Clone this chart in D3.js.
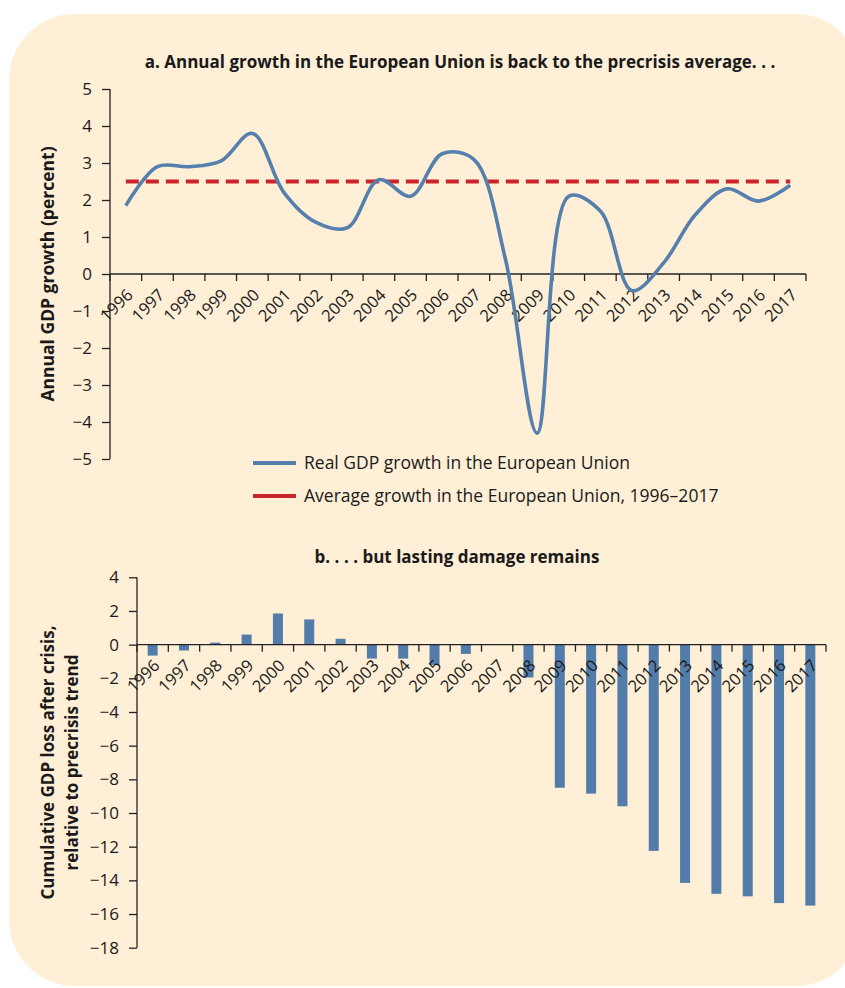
<!DOCTYPE html>
<html>
<head>
<meta charset="utf-8">
<script src="https://cdn.jsdelivr.net/npm/d3@7"></script>
<style>
  body { margin: 0; background: #fff; }
  svg text { font-family: "Open Sans", "Noto Sans", sans-serif; fill: #1a1a1a; }
</style>
</head>
<body>
<div id="chart"></div>
<script>
//chart values
var years = ["1996","1997","1998","1999","2000","2001","2002","2003","2004","2005","2006",
	"2007","2008","2009","2010","2011","2012","2013","2014","2015","2016","2017"];
var gdpGrowth = [1.85, 2.9, 2.9, 3.05, 3.8, 2.2, 1.4, 1.25, 2.55, 2.1, 3.25,
	3.1, 0.4, -4.3, 2.1, 1.7, -0.45, 0.3, 1.6, 2.3, 1.97, 2.4];
var avgGrowth = 2.5;
var gdpLoss = [-0.65, -0.35, 0.12, 0.6, 1.85, 1.5, 0.35, -0.83, -0.83, -1.2, -0.55,
	0, -1.95, -8.5, -8.85, -9.6, -12.25, -14.15, -14.8, -14.95, -15.35, -15.5];
var ticksA = [5, 4, 3, 2, 1, 0, -1, -2, -3, -4, -5];
var ticksB = [4, 2, 0, -2, -4, -6, -8, -10, -12, -14, -16, -18];
var legendItems = ["Real GDP growth in the European Union", "Average growth in the European Union, 1996\u20132017"];

var W = 845, H = 988;
var blue = "#5580ad", red = "#c9232b";

var svg = d3.select("#chart").append("svg")
	.attr("width", W)
	.attr("height", H);

//panel background
svg.append("rect")
	.attr("x", 9).attr("y", 14)
	.attr("width", 852).attr("height", 972)
	.attr("rx", 66).attr("ry", 66)
	.style("fill", "#feefd6");

//shared helper: category axis with ticks on band edges, rotated labels
function categoryAxis(g, x, y0) {
	var edges = years.map(function(d) { return x(d); }).concat([x.range()[1]]);
	g.append("line")
		.attr("x1", x.range()[0]).attr("x2", x.range()[1])
		.attr("y1", y0).attr("y2", y0)
		.style("stroke", "#222").style("stroke-width", 1.3);
	g.selectAll(".edge").data(edges).enter().append("line")
		.attr("x1", function(d) { return d; }).attr("x2", function(d) { return d; })
		.attr("y1", y0).attr("y2", y0 + 7)
		.style("stroke", "#222").style("stroke-width", 1.3);
	g.selectAll(".lab").data(years).enter().append("text")
		.attr("text-anchor", "end")
		.style("font-size", "16.5px")
		.attr("transform", function(d) {
			return "translate(" + (x(d) + x.bandwidth() / 2 + 8) + "," + (y0 + 22) + ") rotate(-45)";
		})
		.text(function(d) { return d; });
}

function valueAxis(g, y, ticks, x0) {
	var ax = g.append("g")
		.attr("transform", "translate(" + x0 + ",0)")
		.call(d3.axisLeft(y).tickValues(ticks).tickSize(8).tickPadding(10)
			.tickFormat(function(d) { return d < 0 ? "\u2212" + Math.abs(d) : d; }));
	ax.select(".domain").attr("d", "M0," + y.range()[0] + "V" + y.range()[1])
		.style("stroke", "#222").style("stroke-width", 1.3);
	ax.selectAll(".tick line").style("stroke", "#222").style("stroke-width", 1.3);
	ax.selectAll(".tick text").style("font-size", "17px").style("font-family", "'Open Sans', sans-serif")
		.style("fill", "#1a1a1a");
}

// ---------- panel a ----------
var xa = d3.scaleBand().domain(years).range([110, 806]);
var ya = d3.scaleLinear().domain([-5, 5]).range([459, 89]);
var ga = svg.append("g");

ga.append("text")
	.attr("x", 460).attr("y", 68)
	.attr("text-anchor", "middle")
	.style("font-size", "17px").style("font-weight", "bold")
	.text("a. Annual growth in the European Union is back to the precrisis average. . .");

valueAxis(ga, ya, ticksA, 110);
categoryAxis(ga, xa, ya(0));

ga.append("text")
	.attr("transform", "translate(54," + ya(0) + ") rotate(-90)")
	.attr("text-anchor", "middle")
	.style("font-size", "17.5px").style("font-weight", "bold")
	.text("Annual GDP growth (percent)");

var cx = function(d, i) { return xa(years[i]) + xa.bandwidth() / 2; };

ga.append("line")
	.attr("x1", xa(years[0]) + xa.bandwidth() / 2)
	.attr("x2", xa(years[years.length - 1]) + xa.bandwidth() / 2)
	.attr("y1", ya(avgGrowth)).attr("y2", ya(avgGrowth))
	.style("stroke", red).style("stroke-width", 4)
	.style("stroke-dasharray", "13,7");

ga.append("path")
	.datum(gdpGrowth)
	.attr("d", d3.line().x(cx).y(function(d) { return ya(d); }).curve(d3.curveCatmullRom.alpha(0.5)))
	.style("fill", "none").style("stroke", blue).style("stroke-width", 3.6);

//legend
var leg = ga.selectAll(".legend").data(legendItems).enter().append("g")
	.attr("transform", function(d, i) { return "translate(253," + (463 + i * 33) + ")"; });
leg.append("line")
	.attr("x1", 0).attr("x2", 43)
	.style("stroke", function(d, i) { return i ? red : blue; })
	.style("stroke-width", 4);
leg.append("text")
	.attr("x", 51).attr("y", 6)
	.style("font-size", "17.5px")
	.text(function(d) { return d; });

// ---------- panel b ----------
var xb = d3.scaleBand().domain(years).range([137, 826]);
var yb = d3.scaleLinear().domain([-18, 4]).range([947.7, 577.3]);
var gb = svg.append("g");

gb.append("text")
	.attr("x", 457).attr("y", 563)
	.attr("text-anchor", "middle")
	.style("font-size", "17px").style("font-weight", "bold")
	.text("b. . . . but lasting damage remains");

valueAxis(gb, yb, ticksB, 137);

gb.selectAll(".bar").data(gdpLoss).enter().append("rect")
	.attr("class", "bar")
	.attr("x", function(d, i) { return xb(years[i]) + xb.bandwidth() / 2 - 5; })
	.attr("width", 10)
	.attr("y", function(d) { return yb(Math.max(0, d)); })
	.attr("height", function(d) { return Math.abs(yb(d) - yb(0)); })
	.style("fill", "#527ca9");

categoryAxis(gb, xb, yb(0));

var titleB = gb.append("text")
	.attr("transform", "translate(54," + yb(-7) + ") rotate(-90)")
	.attr("text-anchor", "middle")
	.style("font-size", "17px").style("font-weight", "bold");
titleB.append("tspan").attr("x", 0).attr("dy", 0).text("Cumulative GDP loss after crisis,");
titleB.append("tspan").attr("x", 0).attr("dy", 24).text("relative to precrisis trend");
</script>
</body>
</html>
